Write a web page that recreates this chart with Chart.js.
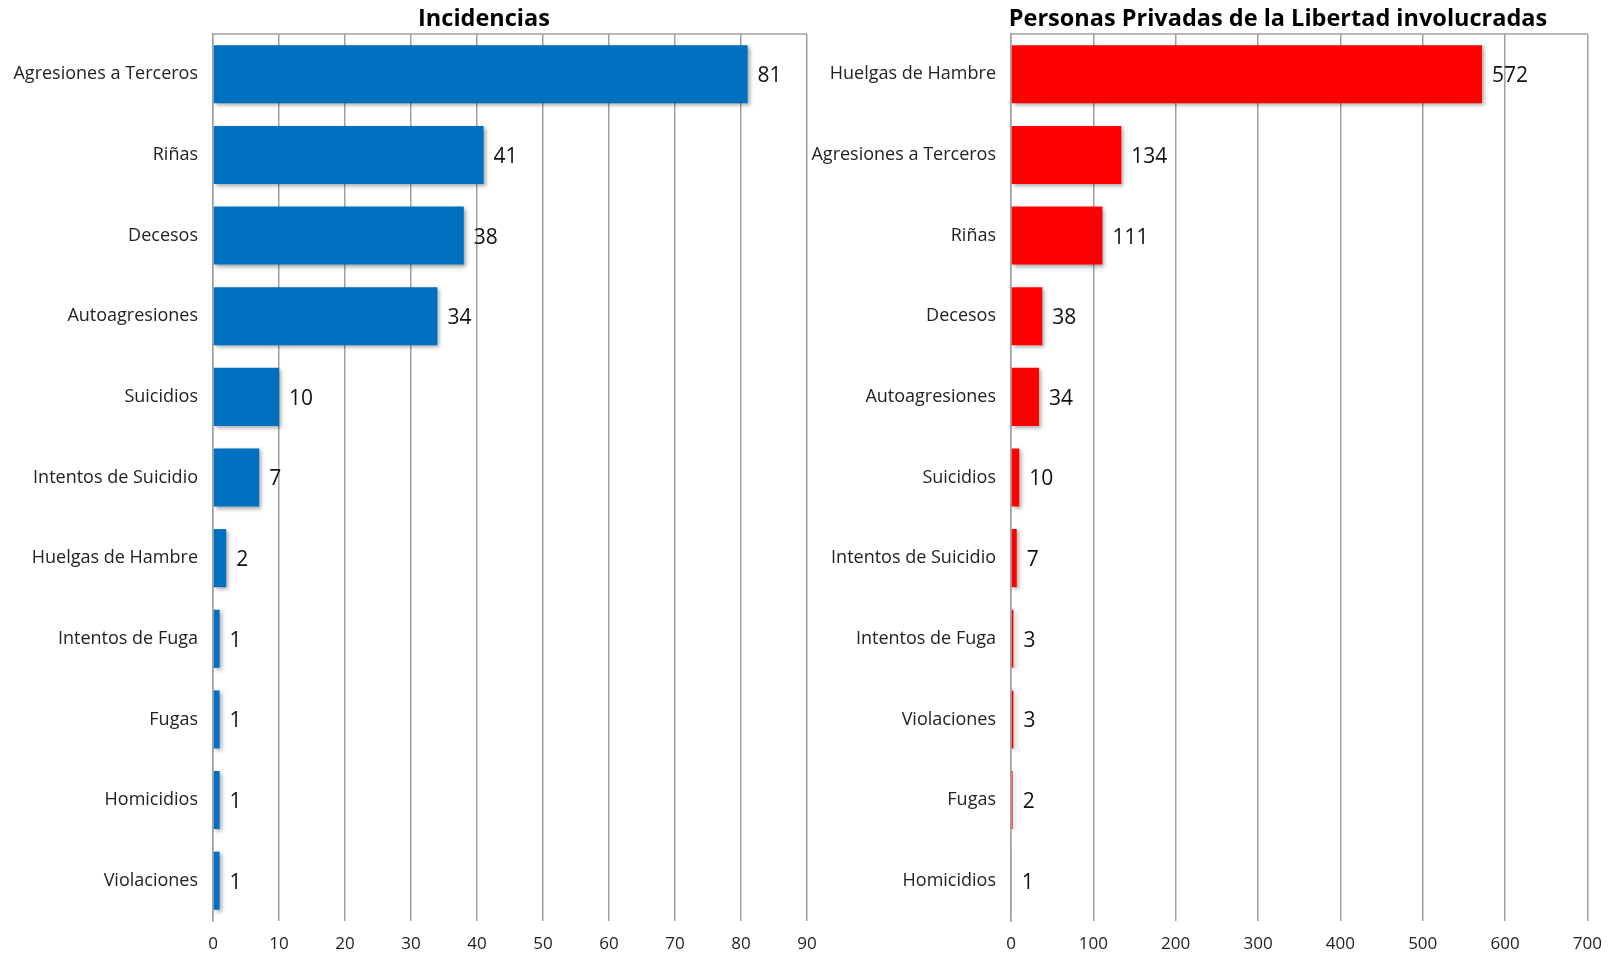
<!DOCTYPE html>
<html>
<head>
    <meta charset="utf-8">
    <script src="https://cdn.jsdelivr.net/npm/chart.js"></script>
    <style>
        body { margin: 0; background: #fff; }
        #wrap { position: relative; width: 1615px; height: 957px; overflow: hidden; }
        .box { position: absolute; top: 0; height: 957px; }
        .titulo { position: absolute; top: 1px; font-family: 'Open Sans'; font-weight: 700; font-size: 23.5px; color: #000; transform: translateX(-50%); white-space: nowrap; }
    </style>
</head>
<body>
<div id="wrap">
    <div class="box" style="left:0; width:830px;"><canvas id="chart1"></canvas></div>
    <div class="box" style="left:800px; width:815px;"><canvas id="chart2"></canvas></div>
    <div class="titulo" style="left:484px;">Incidencias</div>
    <div class="titulo" style="left:1278px;">Personas Privadas de la Libertad involucradas</div>
</div>

<script>
    // datos
    var catsInc = ['Agresiones a Terceros', 'Riñas', 'Decesos', 'Autoagresiones', 'Suicidios', 'Intentos de Suicidio', 'Huelgas de Hambre', 'Intentos de Fuga', 'Fugas', 'Homicidios', 'Violaciones'];
    var valsInc = [81, 41, 38, 34, 10, 7, 2, 1, 1, 1, 1];
    var maxInc = 90, stepInc = 10;

    var catsPpl = ['Huelgas de Hambre', 'Agresiones a Terceros', 'Riñas', 'Decesos', 'Autoagresiones', 'Suicidios', 'Intentos de Suicidio', 'Intentos de Fuga', 'Violaciones', 'Fugas', 'Homicidios'];
    var valsPpl = [572, 134, 111, 38, 34, 10, 7, 3, 3, 2, 1];
    var maxPpl = 700, stepPpl = 100;

    var gridColor = '#a0a0a0';
    var fontFam = 'Open Sans';

    // sombra de barras + etiquetas de valor + linea superior
    var extras = {
        id: 'extras',
        beforeDatasetsDraw: function(chart) {
            var c = chart.ctx;
            c.save();
            c.shadowColor = 'rgba(0,0,0,0.35)';
            c.shadowBlur = 4;
            c.shadowOffsetX = 2;
            c.shadowOffsetY = 2;
        },
        afterDatasetsDraw: function(chart) {
            var c = chart.ctx;
            c.restore();
            var meta = chart.getDatasetMeta(0);
            var vals = chart.data.datasets[0].data;
            c.save();
            c.font = '21px "' + fontFam + '"';
            c.fillStyle = '#111';
            c.textBaseline = 'middle';
            c.textAlign = 'left';
            meta.data.forEach(function(bar, i) {
                c.fillText(String(vals[i]), bar.x + 10, bar.y + 2);
            });
            c.restore();
        },
        afterDraw: function(chart) {
            var a = chart.chartArea, c = chart.ctx;
            c.save();
            c.strokeStyle = gridColor;
            c.lineWidth = 1.5;
            c.beginPath();
            c.moveTo(a.left, a.top);
            c.lineTo(a.right, a.top);
            c.stroke();
            c.restore();
        }
    };

    function makeChart(id, cats, vals, color, max, step, yWidth, padRight) {
        var ctx = document.getElementById(id).getContext('2d');
        return new Chart(ctx, {
            type: 'bar',
            data: {
                labels: cats,
                datasets: [{
                    data: vals,
                    backgroundColor: color,
                    categoryPercentage: 1,
                    barPercentage: 0.72
                }]
            },
            options: {
                indexAxis: 'y',
                responsive: true,
                maintainAspectRatio: false,
                animation: false,
                layout: { padding: { top: 34, right: padRight, left: 0, bottom: 0 } },
                plugins: { legend: { display: false }, tooltip: { enabled: false } },
                scales: {
                    x: {
                        min: 0,
                        max: max,
                        ticks: { stepSize: step, padding: 13, color: '#222', font: { family: fontFam, size: 17 } },
                        grid: { color: gridColor, lineWidth: 1.5, drawTicks: false },
                        border: { display: false },
                        afterFit: function(s) { s.height = 36; }
                    },
                    y: {
                        ticks: { padding: 15, color: '#222', font: { family: fontFam, size: 18 } },
                        grid: { display: false, drawTicks: false },
                        border: { display: true, color: gridColor, width: 1.5 },
                        afterFit: function(s) { s.width = yWidth; }
                    }
                }
            },
            plugins: [extras]
        });
    }

    var chart1 = makeChart('chart1', catsInc, valsInc, '#0070c0', maxInc, stepInc, 213, 23);
    var chart2 = makeChart('chart2', catsPpl, valsPpl, '#ff0000', maxPpl, stepPpl, 211, 20);
</script>

</body>
</html>
